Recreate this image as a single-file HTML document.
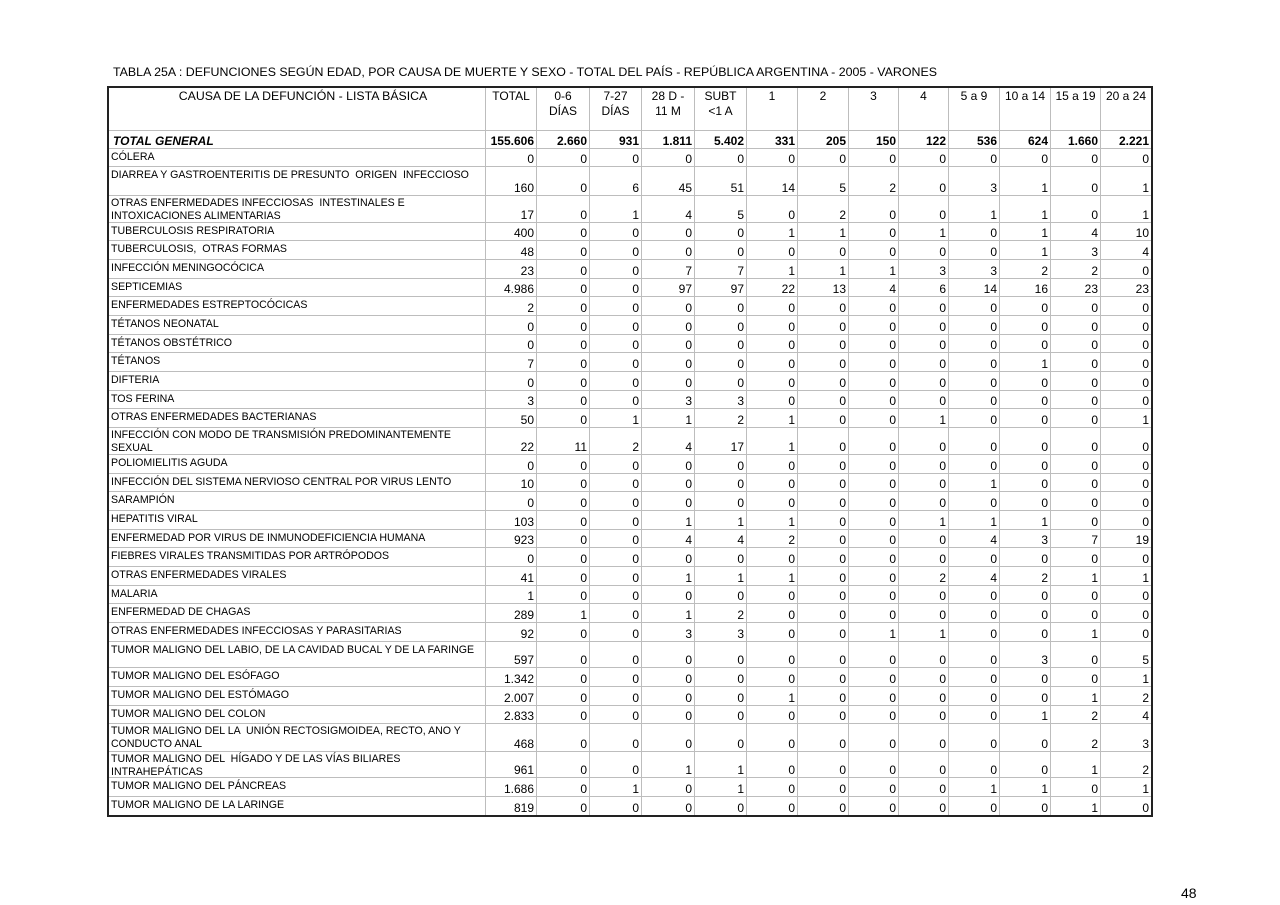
<!DOCTYPE html>
<html>
<head>
<meta charset="utf-8">
<style>
html,body{margin:0;padding:0;background:#fff;}
body{width:1280px;height:905px;position:relative;overflow:hidden;font-family:"Liberation Sans",Arial,sans-serif;color:#000;}
.title{position:absolute;left:113px;top:65px;font-size:12.4px;line-height:14px;white-space:nowrap;}
.pg{position:absolute;left:1181px;top:885px;font-size:14px;line-height:16px;}
.wrap{position:absolute;left:107px;top:86px;border:2px solid #222;}
table{border-collapse:separate;border-spacing:0;table-layout:fixed;width:1042px;}
td{box-sizing:border-box;border-right:1px solid #bdbdbd;border-bottom:1px solid #bdbdbd;padding:0 2px 0 0;font-size:12px;line-height:14px;text-align:right;vertical-align:bottom;white-space:nowrap;overflow:hidden;}
td:last-child{border-right:none;}
tr:last-child td{border-bottom:none;}
td.l{text-align:left;vertical-align:top;font-size:10.6px;line-height:13px;padding:2px 0 0 2px;white-space:pre;}
td.l2{padding-top:0;overflow:visible;}
td.l2 div{height:20px;line-height:13.5px;position:relative;top:0.5px;}
tr.h td{text-align:center;vertical-align:top;padding:1px 0 0 0;line-height:15px;}
tr.h td.c{padding-left:12px;font-size:12.3px;}
tr.t td{font-weight:bold;}
tr.t td.l{font-style:italic;font-size:12px;vertical-align:bottom;padding:0 0 0 4px;line-height:14px;white-space:nowrap;}
</style>
</head>
<body>
<div class="title">TABLA 25A : DEFUNCIONES SEGÚN EDAD, POR CAUSA DE MUERTE Y SEXO - TOTAL DEL PAÍS - REPÚBLICA ARGENTINA - 2005 - VARONES</div>
<div class="wrap">
<table>
<colgroup>
<col style="width:377px"><col style="width:51px"><col style="width:53px"><col style="width:52px"><col style="width:53px"><col style="width:52px"><col style="width:51px"><col style="width:51px"><col style="width:50px"><col style="width:50px"><col style="width:51px"><col style="width:51px"><col style="width:50px"><col style="width:50px">
</colgroup>
<tr class="h" style="height:43px"><td class="c">CAUSA DE LA DEFUNCIÓN - LISTA BÁSICA</td><td>TOTAL</td><td>0-6<br>DÍAS</td><td>7-27<br>DÍAS</td><td>28 D -<br>11 M</td><td>SUBT<br>&lt;1 A</td><td>1</td><td>2</td><td>3</td><td>4</td><td>5 a 9</td><td>10 a 14</td><td>15 a 19</td><td>20 a 24</td></tr>
<tr class="t" style="height:18px"><td class="l">TOTAL GENERAL</td><td>155.606</td><td>2.660</td><td>931</td><td>1.811</td><td>5.402</td><td>331</td><td>205</td><td>150</td><td>122</td><td>536</td><td>624</td><td>1.660</td><td>2.221</td></tr>
<tr style="height:18px"><td class="l">CÓLERA</td><td>0</td><td>0</td><td>0</td><td>0</td><td>0</td><td>0</td><td>0</td><td>0</td><td>0</td><td>0</td><td>0</td><td>0</td><td>0</td></tr>
<tr style="height:29px"><td class="l">DIARREA Y GASTROENTERITIS DE PRESUNTO  ORIGEN  INFECCIOSO</td><td>160</td><td>0</td><td>6</td><td>45</td><td>51</td><td>14</td><td>5</td><td>2</td><td>0</td><td>3</td><td>1</td><td>0</td><td>1</td></tr>
<tr style="height:27px"><td class="l l2"><div>OTRAS ENFERMEDADES INFECCIOSAS  INTESTINALES E<br>INTOXICACIONES ALIMENTARIAS</div></td><td>17</td><td>0</td><td>1</td><td>4</td><td>5</td><td>0</td><td>2</td><td>0</td><td>0</td><td>1</td><td>1</td><td>0</td><td>1</td></tr>
<tr style="height:18px"><td class="l">TUBERCULOSIS RESPIRATORIA</td><td>400</td><td>0</td><td>0</td><td>0</td><td>0</td><td>1</td><td>1</td><td>0</td><td>1</td><td>0</td><td>1</td><td>4</td><td>10</td></tr>
<tr style="height:19px"><td class="l">TUBERCULOSIS,  OTRAS FORMAS</td><td>48</td><td>0</td><td>0</td><td>0</td><td>0</td><td>0</td><td>0</td><td>0</td><td>0</td><td>0</td><td>1</td><td>3</td><td>4</td></tr>
<tr style="height:19px"><td class="l">INFECCIÓN MENINGOCÓCICA</td><td>23</td><td>0</td><td>0</td><td>7</td><td>7</td><td>1</td><td>1</td><td>1</td><td>3</td><td>3</td><td>2</td><td>2</td><td>0</td></tr>
<tr style="height:18px"><td class="l">SEPTICEMIAS</td><td>4.986</td><td>0</td><td>0</td><td>97</td><td>97</td><td>22</td><td>13</td><td>4</td><td>6</td><td>14</td><td>16</td><td>23</td><td>23</td></tr>
<tr style="height:19px"><td class="l">ENFERMEDADES ESTREPTOCÓCICAS</td><td>2</td><td>0</td><td>0</td><td>0</td><td>0</td><td>0</td><td>0</td><td>0</td><td>0</td><td>0</td><td>0</td><td>0</td><td>0</td></tr>
<tr style="height:19px"><td class="l">TÉTANOS NEONATAL</td><td>0</td><td>0</td><td>0</td><td>0</td><td>0</td><td>0</td><td>0</td><td>0</td><td>0</td><td>0</td><td>0</td><td>0</td><td>0</td></tr>
<tr style="height:18px"><td class="l">TÉTANOS OBSTÉTRICO</td><td>0</td><td>0</td><td>0</td><td>0</td><td>0</td><td>0</td><td>0</td><td>0</td><td>0</td><td>0</td><td>0</td><td>0</td><td>0</td></tr>
<tr style="height:19px"><td class="l">TÉTANOS</td><td>7</td><td>0</td><td>0</td><td>0</td><td>0</td><td>0</td><td>0</td><td>0</td><td>0</td><td>0</td><td>1</td><td>0</td><td>0</td></tr>
<tr style="height:19px"><td class="l">DIFTERIA</td><td>0</td><td>0</td><td>0</td><td>0</td><td>0</td><td>0</td><td>0</td><td>0</td><td>0</td><td>0</td><td>0</td><td>0</td><td>0</td></tr>
<tr style="height:18px"><td class="l">TOS FERINA</td><td>3</td><td>0</td><td>0</td><td>3</td><td>3</td><td>0</td><td>0</td><td>0</td><td>0</td><td>0</td><td>0</td><td>0</td><td>0</td></tr>
<tr style="height:19px"><td class="l">OTRAS ENFERMEDADES BACTERIANAS</td><td>50</td><td>0</td><td>1</td><td>1</td><td>2</td><td>1</td><td>0</td><td>0</td><td>1</td><td>0</td><td>0</td><td>0</td><td>1</td></tr>
<tr style="height:27px"><td class="l l2"><div>INFECCIÓN CON MODO DE TRANSMISIÓN PREDOMINANTEMENTE<br>SEXUAL</div></td><td>22</td><td>11</td><td>2</td><td>4</td><td>17</td><td>1</td><td>0</td><td>0</td><td>0</td><td>0</td><td>0</td><td>0</td><td>0</td></tr>
<tr style="height:19px"><td class="l">POLIOMIELITIS AGUDA</td><td>0</td><td>0</td><td>0</td><td>0</td><td>0</td><td>0</td><td>0</td><td>0</td><td>0</td><td>0</td><td>0</td><td>0</td><td>0</td></tr>
<tr style="height:18px"><td class="l">INFECCIÓN DEL SISTEMA NERVIOSO CENTRAL POR VIRUS LENTO</td><td>10</td><td>0</td><td>0</td><td>0</td><td>0</td><td>0</td><td>0</td><td>0</td><td>0</td><td>1</td><td>0</td><td>0</td><td>0</td></tr>
<tr style="height:19px"><td class="l">SARAMPIÓN</td><td>0</td><td>0</td><td>0</td><td>0</td><td>0</td><td>0</td><td>0</td><td>0</td><td>0</td><td>0</td><td>0</td><td>0</td><td>0</td></tr>
<tr style="height:19px"><td class="l">HEPATITIS VIRAL</td><td>103</td><td>0</td><td>0</td><td>1</td><td>1</td><td>1</td><td>0</td><td>0</td><td>1</td><td>1</td><td>1</td><td>0</td><td>0</td></tr>
<tr style="height:18px"><td class="l">ENFERMEDAD POR VIRUS DE INMUNODEFICIENCIA HUMANA</td><td>923</td><td>0</td><td>0</td><td>4</td><td>4</td><td>2</td><td>0</td><td>0</td><td>0</td><td>4</td><td>3</td><td>7</td><td>19</td></tr>
<tr style="height:19px"><td class="l">FIEBRES VIRALES TRANSMITIDAS POR ARTRÓPODOS</td><td>0</td><td>0</td><td>0</td><td>0</td><td>0</td><td>0</td><td>0</td><td>0</td><td>0</td><td>0</td><td>0</td><td>0</td><td>0</td></tr>
<tr style="height:19px"><td class="l">OTRAS ENFERMEDADES VIRALES</td><td>41</td><td>0</td><td>0</td><td>1</td><td>1</td><td>1</td><td>0</td><td>0</td><td>2</td><td>4</td><td>2</td><td>1</td><td>1</td></tr>
<tr style="height:18px"><td class="l">MALARIA</td><td>1</td><td>0</td><td>0</td><td>0</td><td>0</td><td>0</td><td>0</td><td>0</td><td>0</td><td>0</td><td>0</td><td>0</td><td>0</td></tr>
<tr style="height:19px"><td class="l">ENFERMEDAD DE CHAGAS</td><td>289</td><td>1</td><td>0</td><td>1</td><td>2</td><td>0</td><td>0</td><td>0</td><td>0</td><td>0</td><td>0</td><td>0</td><td>0</td></tr>
<tr style="height:19px"><td class="l">OTRAS ENFERMEDADES INFECCIOSAS Y PARASITARIAS</td><td>92</td><td>0</td><td>0</td><td>3</td><td>3</td><td>0</td><td>0</td><td>1</td><td>1</td><td>0</td><td>0</td><td>1</td><td>0</td></tr>
<tr style="height:26px"><td class="l">TUMOR MALIGNO DEL LABIO, DE LA CAVIDAD BUCAL Y DE LA FARINGE</td><td>597</td><td>0</td><td>0</td><td>0</td><td>0</td><td>0</td><td>0</td><td>0</td><td>0</td><td>0</td><td>3</td><td>0</td><td>5</td></tr>
<tr style="height:19px"><td class="l">TUMOR MALIGNO DEL ESÓFAGO</td><td>1.342</td><td>0</td><td>0</td><td>0</td><td>0</td><td>0</td><td>0</td><td>0</td><td>0</td><td>0</td><td>0</td><td>0</td><td>1</td></tr>
<tr style="height:19px"><td class="l">TUMOR MALIGNO DEL ESTÓMAGO</td><td>2.007</td><td>0</td><td>0</td><td>0</td><td>0</td><td>1</td><td>0</td><td>0</td><td>0</td><td>0</td><td>0</td><td>1</td><td>2</td></tr>
<tr style="height:18px"><td class="l">TUMOR MALIGNO DEL COLON</td><td>2.833</td><td>0</td><td>0</td><td>0</td><td>0</td><td>0</td><td>0</td><td>0</td><td>0</td><td>0</td><td>1</td><td>2</td><td>4</td></tr>
<tr style="height:28px"><td class="l l2"><div>TUMOR MALIGNO DEL LA  UNIÓN RECTOSIGMOIDEA, RECTO, ANO Y<br>CONDUCTO ANAL</div></td><td>468</td><td>0</td><td>0</td><td>0</td><td>0</td><td>0</td><td>0</td><td>0</td><td>0</td><td>0</td><td>0</td><td>2</td><td>3</td></tr>
<tr style="height:26px"><td class="l l2"><div>TUMOR MALIGNO DEL  HÍGADO Y DE LAS VÍAS BILIARES<br>INTRAHEPÁTICAS</div></td><td>961</td><td>0</td><td>0</td><td>1</td><td>1</td><td>0</td><td>0</td><td>0</td><td>0</td><td>0</td><td>0</td><td>1</td><td>2</td></tr>
<tr style="height:19px"><td class="l">TUMOR MALIGNO DEL PÁNCREAS</td><td>1.686</td><td>0</td><td>1</td><td>0</td><td>1</td><td>0</td><td>0</td><td>0</td><td>0</td><td>1</td><td>1</td><td>0</td><td>1</td></tr>
<tr style="height:18px"><td class="l">TUMOR MALIGNO DE LA LARINGE</td><td>819</td><td>0</td><td>0</td><td>0</td><td>0</td><td>0</td><td>0</td><td>0</td><td>0</td><td>0</td><td>0</td><td>1</td><td>0</td></tr>
</table>
</div>
<div class="pg">48</div>
</body>
</html>
